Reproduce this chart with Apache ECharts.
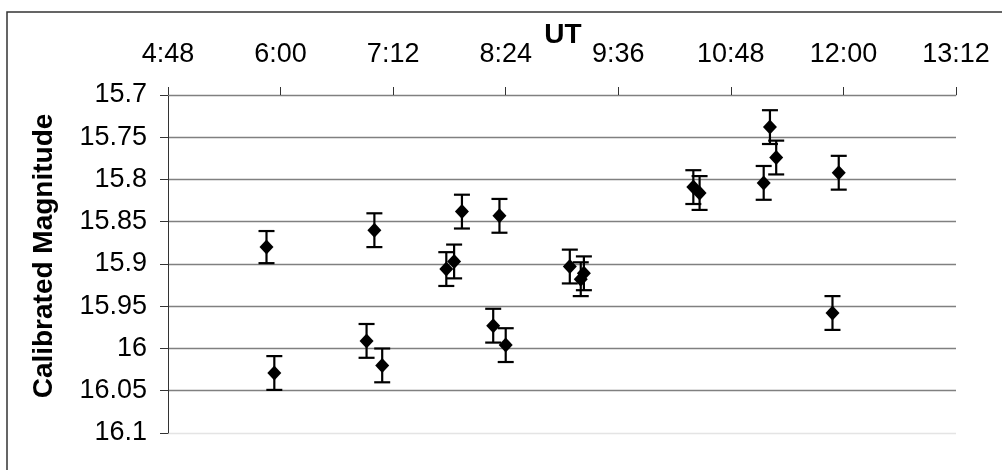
<!DOCTYPE html>
<html>
<head>
<meta charset="utf-8">
<style>
  html, body { margin: 0; padding: 0; background: #fff; }
  #chart { width: 1002px; height: 470px; }
</style>
<script src="https://cdn.jsdelivr.net/npm/echarts@6/dist/echarts.min.js"></script>
</head>
<body>
<div id="chart"></div>
<script>
// Observation times (UT) and calibrated magnitudes with 1-sigma errors
const utTimes = ['5:51', '5:56', '6:55', '7:00', '7:05', '7:46', '7:51', '7:56', '8:16', '8:20', '8:24',
                 '9:05', '9:12', '9:14', '10:24', '10:28', '11:09', '11:13', '11:17', '11:53', '11:57'];
const magnitudes = [15.880, 16.029, 15.991, 15.860, 16.020, 15.906, 15.897, 15.838, 15.973, 15.843, 15.996,
                    15.903, 15.918, 15.911, 15.809, 15.816, 15.804, 15.738, 15.774, 15.958, 15.792];
const magErrors = [0.019, 0.020, 0.020, 0.020, 0.020, 0.020, 0.020, 0.020, 0.020, 0.020, 0.020,
                   0.020, 0.020, 0.020, 0.020, 0.020, 0.020, 0.020, 0.020, 0.020, 0.020];

// Axis ranges (x in minutes after 0:00 UT)
const xMin = 288, xMax = 792, xStep = 72;   // 4:48 .. 13:12 every 1:12
const yMin = 15.7, yMax = 16.1, yStep = 0.05;

const FONT = "'Liberation Sans', Arial, sans-serif";

function toMinutes(s) {
  const [h, m] = s.split(':').map(Number);
  return h * 60 + m;
}
function fmtTime(v) {
  const h = Math.floor(v / 60), m = Math.round(v - h * 60);
  return h + ':' + (m < 10 ? '0' + m : m);
}

const points = utTimes.map((t, i) => [toMinutes(t), magnitudes[i], magErrors[i]]);

const chart = echarts.init(document.getElementById('chart'), null, { renderer: 'canvas' });

chart.setOption({
  backgroundColor: '#ffffff',
  animation: false,
  grid: { left: 168, right: 46, top: 95, bottom: 37, containLabel: false },
  xAxis: {
    type: 'value',
    position: 'top',
    min: xMin, max: xMax, interval: xStep,
    axisLine: { show: true, lineStyle: { color: '#808080', width: 1 } },
    axisTick: { show: true, inside: false, length: 8, lineStyle: { color: '#333', width: 1 } },
    axisLabel: {
      formatter: v => fmtTime(v),
      fontFamily: FONT, fontSize: 27, color: '#000', margin: 27, lineHeight: 27
    },
    splitLine: { show: false }
  },
  yAxis: {
    type: 'value',
    inverse: true,
    min: yMin, max: yMax, interval: yStep,
    axisLine: { show: true, onZero: false, lineStyle: { color: '#333', width: 1 } },
    axisTick: { show: true, length: 8, lineStyle: { color: '#333', width: 1 } },
    axisLabel: {
      formatter: v => String(parseFloat(v.toFixed(2))),
      fontFamily: FONT, fontSize: 27, color: '#000', margin: 21
    },
    splitLine: {
      show: true,
      lineStyle: {
        color: ['#808080', '#808080', '#808080', '#808080', '#808080', '#808080', '#808080', '#808080', '#e4e4e4'],
        width: 1.3
      }
    }
  },
  graphic: [
    {
      type: 'rect', silent: true, z: -1,
      shape: { x: 7, y: 12, width: 1100, height: 600 },
      style: { fill: 'none', stroke: '#333', lineWidth: 1.5 }
    },
    {
      type: 'text', x: 563, y: 35,
      style: {
        text: 'UT', fontFamily: FONT, fontSize: 28, fontWeight: 'bold',
        fill: '#000', textAlign: 'center', textVerticalAlign: 'middle'
      }
    },
    {
      type: 'text', x: 44, y: 256, rotation: Math.PI / 2,
      style: {
        text: 'Calibrated Magnitude', fontFamily: FONT, fontSize: 28, fontWeight: 'bold',
        fill: '#000', textAlign: 'center', textVerticalAlign: 'middle'
      }
    }
  ],
  series: [
    {
      // error bars with end caps
      type: 'custom',
      data: points,
      z: 2,
      renderItem: (params, api) => {
        const x = api.value(0), y = api.value(1), e = api.value(2);
        const top = api.coord([x, y - e]);
        const bot = api.coord([x, y + e]);
        const cap = 8;
        const style = { stroke: '#000', lineWidth: 2.2 };
        return {
          type: 'group',
          children: [
            { type: 'line', shape: { x1: top[0], y1: top[1], x2: bot[0], y2: bot[1] }, style },
            { type: 'line', shape: { x1: top[0] - cap, y1: top[1], x2: top[0] + cap, y2: top[1] }, style },
            { type: 'line', shape: { x1: bot[0] - cap, y1: bot[1], x2: bot[0] + cap, y2: bot[1] }, style }
          ]
        };
      }
    },
    {
      type: 'scatter',
      data: points.map(p => [p[0], p[1]]),
      symbol: 'diamond',
      symbolSize: [14, 15],
      itemStyle: { color: '#000', opacity: 1 },
      z: 3
    }
  ]
});
</script>
</body>
</html>
